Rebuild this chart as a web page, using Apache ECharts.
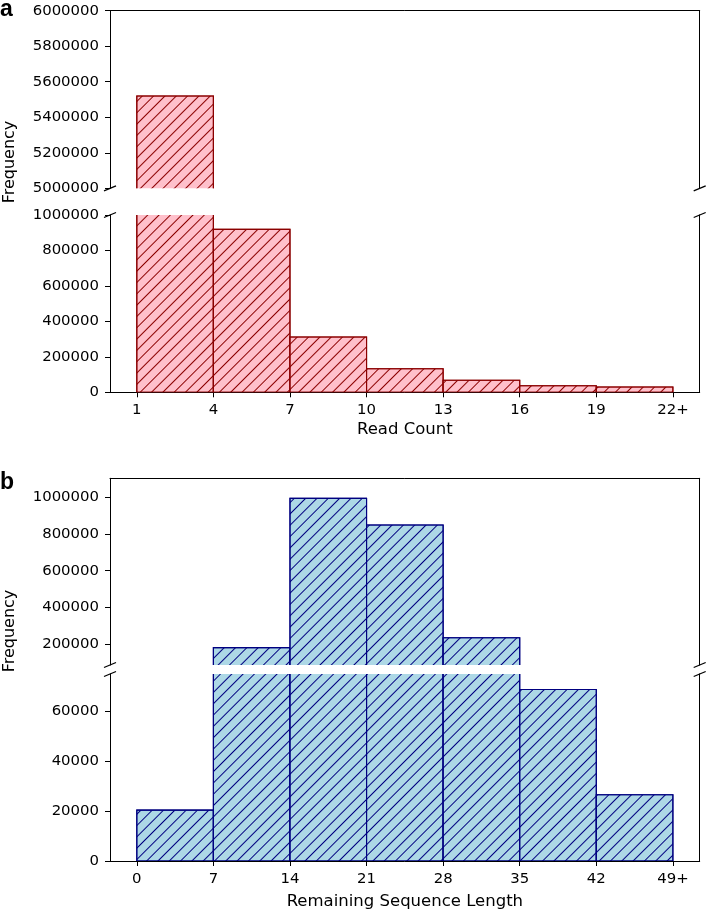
<!DOCTYPE html>
<html><head><meta charset="utf-8">
<script src="https://cdn.jsdelivr.net/npm/echarts@6/dist/echarts.min.js"></script>
<style>html,body{margin:0;padding:0;background:#fff}#c{width:708px;height:913px}</style>
</head><body><div id="c"></div>
<script>
// ---- data ----
const readEdges = [1, 4, 7, 10, 13, 16, 19, 22];
const readTickLabels = ['1', '4', '7', '10', '13', '16', '19', '22+'];
const readCounts = [5520000, 919000, 312000, 133000, 68000, 37000, 30000];

const lenEdges = [0, 7, 14, 21, 28, 35, 42, 49];
const lenTickLabels = ['0', '7', '14', '21', '28', '35', '42', '49+'];
const lenCounts = [20400, 180000, 994000, 849000, 234000, 68800, 26600];

const aTopTicks = [5000000, 5200000, 5400000, 5600000, 5800000, 6000000];
const aBotTicks = [0, 200000, 400000, 600000, 800000, 1000000];
const bTopTicks = [200000, 400000, 600000, 800000, 1000000];
const bBotTicks = [0, 20000, 40000, 60000];

// ---- layout ----
const FONT = 'DejaVu Sans';
const FS = 14.9;
const FSL = 16.5;
const L = 110, W = 589.7;
const grids = [
  {top: 10.7, height: 177.6},
  {top: 215, height: 177.3},
  {top: 478.3, height: 186.7},
  {top: 674, height: 187}
];
const yRanges = [[5000000, 6000000], [0, 1000000], [85500, 1103600], [0, 75000]];
const yTicks = [aTopTicks, aBotTicks, bTopTicks, bBotTicks];
const xRanges = [[-0.05, 23.05], [-0.05, 23.05], [-2.45, 51.45], [-2.45, 51.45]];
const nameGaps = [0, 29, 0, 32.5];

function toBins(edges, counts) {
  return counts.map((v, i) => [edges[i], edges[i + 1], v]);
}
const styles = [
  {fill: '#FFC0CB', stroke: '#8B0000'},
  {fill: '#ADD8E6', stroke: '#000080'}
];
function makeRender(st) {
  return function (params, api) {
    const p0 = api.coord([api.value(0), api.value(2)]);
    const p1 = api.coord([api.value(1), 0]);
    return {
      type: 'rect',
      shape: {x: p0[0], y: p0[1], width: p1[0] - p0[0], height: p1[1] - p0[1]},
      style: {
        fill: st.fill, stroke: st.stroke, lineWidth: 1.1,
        decal: {symbol: 'rect', symbolSize: 1, dashArrayX: [1, 0], dashArrayY: [1, 6.8],
                rotation: -Math.PI / 4, color: st.stroke, backgroundColor: 'rgba(0,0,0,0)'}
      }
    };
  };
}

const xAxis = [], yAxis = [], series = [];
const lineStyle = {color: '#000', width: 1};
for (let g = 0; g < 4; g++) {
  const isTop = g % 2 === 0;
  const panel = g < 2 ? 0 : 1;
  const edges = panel === 0 ? readEdges : lenEdges;
  const tickLabels = panel === 0 ? readTickLabels : lenTickLabels;
  xAxis.push({
    type: 'value', gridIndex: g, position: isTop ? 'top' : 'bottom',
    min: xRanges[g][0], max: xRanges[g][1],
    axisLine: {show: true, onZero: false, lineStyle},
    axisTick: {show: !isTop, length: 5, lineStyle, customValues: edges},
    axisLabel: {show: !isTop, margin: 10.5, color: '#000', fontFamily: FONT, fontSize: FS,
      customValues: edges,
      formatter: v => tickLabels[edges.indexOf(v)] ?? ''},
    splitLine: {show: false},
    name: isTop ? '' : (panel === 0 ? 'Read Count' : 'Remaining Sequence Length'),
    nameLocation: 'middle', nameGap: nameGaps[g],
    nameTextStyle: {color: '#000', fontFamily: FONT, fontSize: FSL}
  });
  yAxis.push({
    type: 'value', gridIndex: g, position: 'left',
    min: yRanges[g][0], max: yRanges[g][1],
    axisLine: {show: true, onZero: false, lineStyle},
    axisTick: {show: true, length: 5, lineStyle, customValues: yTicks[g]},
    axisLabel: {show: true, margin: 11, color: '#000', fontFamily: FONT, fontSize: FS,
      customValues: yTicks[g], formatter: v => String(v)},
    splitLine: {show: false}
  });
  series.push({
    type: 'custom', xAxisIndex: g, yAxisIndex: g, clip: true,
    data: panel === 0 ? toBins(readEdges, readCounts) : toBins(lenEdges, lenCounts),
    renderItem: makeRender(styles[panel])
  });
}
for (let g = 0; g < 4; g++) {
  yAxis.push({
    type: 'value', gridIndex: g, position: 'right',
    min: yRanges[g][0], max: yRanges[g][1],
    axisLine: {show: true, onZero: false, lineStyle},
    axisTick: {show: false}, axisLabel: {show: false}, splitLine: {show: false}
  });
}

// break marks (decoration at grid edges)
const graphic = [];
function brk(x, y) {
  graphic.push({type: 'line', shape: {x1: x - 6, y1: y + 2.5, x2: x + 6, y2: y - 2.5},
    style: {stroke: '#000', lineWidth: 1.3}, z: 100});
}
[[0, 'bottom'], [1, 'top'], [2, 'bottom'], [3, 'top']].forEach(([g, side]) => {
  const y = side === 'bottom' ? grids[g].top + grids[g].height : grids[g].top;
  brk(L, y); brk(L + W, y);
});
graphic.push({type: 'text', x: 0, y: -2, style: {text: 'a', font: 'bold 23px "Liberation Sans"', fill: '#000'}});
graphic.push({type: 'text', x: 0, y: 471, style: {text: 'b', font: 'bold 23px "Liberation Sans"', fill: '#000'}});
graphic.push({type: 'text', x: 10, y: 162, rotation: Math.PI / 2,
  style: {text: 'Frequency', font: '16px "' + FONT + '"', fill: '#000', align: 'center', verticalAlign: 'middle'}});
graphic.push({type: 'text', x: 10, y: 631, rotation: Math.PI / 2,
  style: {text: 'Frequency', font: '16px "' + FONT + '"', fill: '#000', align: 'center', verticalAlign: 'middle'}});

const chart = echarts.init(document.getElementById('c'), null, {renderer: 'canvas'});
chart.setOption({
  animation: false,
  backgroundColor: '#fff',
  grid: grids.map(g => ({left: L, width: W, top: g.top, height: g.height, containLabel: false, outerBoundsMode: 'none'})),
  xAxis, yAxis, series, graphic
});
</script></body></html>
